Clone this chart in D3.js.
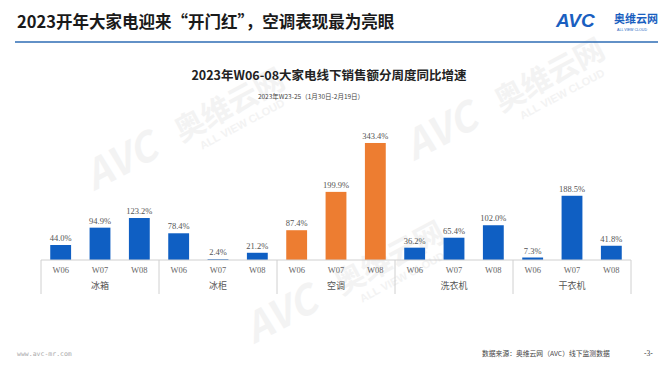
<!DOCTYPE html>
<html><head><meta charset="utf-8">
<script src="https://cdn.jsdelivr.net/npm/d3@7"></script>
<style>
html,body{margin:0;padding:0;background:#fff;}
svg{display:block;}
</style></head>
<body>
<svg id="c" width="667" height="370"></svg>
<script>
const categories = ["冰箱","冰柜","空调","洗衣机","干衣机"];
const weeks = ["W06","W07","W08"];
const fridge = [44.0, 94.9, 123.2];
const freezer = [78.4, 2.4, 21.2];
const aircon = [87.4, 199.9, 343.4];
const washer = [36.2, 65.4, 102.0];
const dryer = [7.3, 188.5, 41.8];
const seriesValues = [fridge, freezer, aircon, washer, dryer];
const highlight = "空调";

const pageTitle = "2023开年大家电迎来“开门红”，空调表现最为亮眼";
const chartTitle = "2023年W06-08大家电线下销售额分周度同比增速";
const chartSub = "2023年W23-25（1月30日-2月19日）";

const data = [];
categories.forEach((c,i)=>weeks.forEach((w,j)=>data.push({cat:c,week:w,key:c+"|"+w,value:seriesValues[i][j]})));

const svg = d3.select("#c");
const left = 41, right = 631, base = 260;

// watermarks
const wm = svg.append("g").attr("fill","#f3f3f3").attr("font-family","Noto Sans CJK SC, sans-serif").attr("font-weight",700);
[[200,135],[520,105],[360,288]].forEach(([x,y])=>{
  const g = wm.append("g").attr("transform",`translate(${x},${y}) rotate(-28)`);
  g.append("text").attr("font-size",40).attr("font-style","italic").attr("x",-120).text("AVC");
  g.append("text").attr("font-size",30).attr("x",-20).attr("y",-2).text("奥维云网");
  g.append("text").attr("font-size",11).attr("x",-5).attr("y",14).attr("font-family","Liberation Sans, sans-serif").text("ALL VIEW CLOUD");
});

// page header
svg.append("text").attr("x",17).attr("y",28).attr("font-family","Noto Sans CJK SC, sans-serif")
  .attr("font-weight",700).attr("font-size",16.5).attr("fill","#1a1a1a").text(pageTitle);
svg.append("line").attr("x1",15).attr("x2",658).attr("y1",42).attr("y2",42).attr("stroke","#2e6db4").attr("stroke-width",1.5);
// logo
const logo = svg.append("g");
logo.append("text").attr("x",556).attr("y",27).attr("font-family","Liberation Sans, sans-serif").attr("font-weight",700)
  .attr("font-style","italic").attr("font-size",19).attr("fill","#1a5fc0").text("AVC");
logo.append("text").attr("x",614).attr("y",23).attr("font-family","Noto Sans CJK SC, sans-serif").attr("font-weight",700)
  .attr("font-size",11).attr("fill","#1a5fc0").text("奥维云网");
logo.append("text").attr("x",617).attr("y",31).attr("font-family","Liberation Sans, sans-serif")
  .attr("font-size",3.6).attr("fill","#1a5fc0").text("ALL VIEW CLOUD");

// chart titles
svg.append("text").attr("x",329).attr("y",80).attr("text-anchor","middle").attr("font-family","Noto Sans CJK SC, sans-serif")
  .attr("font-weight",700).attr("font-size",12.5).attr("fill","#222").text(chartTitle);
svg.append("text").attr("x",311).attr("y",99).attr("text-anchor","middle").attr("font-family","Noto Sans CJK SC, sans-serif")
  .attr("font-size",6.5).attr("fill","#444").text(chartSub);

// scales
const x = d3.scaleBand().domain(data.map(d=>d.key)).range([left,right]).paddingInner(0.47).paddingOuter(0.235);
const xg = d3.scaleBand().domain(categories).range([left,right]);
const y = d3.scaleLinear().domain([0,400]).range([base, base-136.3]);

// bars
svg.append("g").selectAll("rect").data(data).join("rect")
  .attr("x",d=>x(d.key)).attr("width",x.bandwidth())
  .attr("y",d=>y(d.value)).attr("height",d=>y(0)-y(d.value))
  .attr("fill",d=>d.cat===highlight?"#ed7d31":"#0f5fc3");

// value labels
svg.append("g").selectAll("text").data(data).join("text")
  .attr("x",d=>x(d.key)+x.bandwidth()/2).attr("y",d=>y(d.value)-4)
  .attr("text-anchor","middle").attr("font-family","Liberation Serif, serif").attr("font-size",8.5).attr("fill","#555")
  .text(d=>d.value.toFixed(1)+"%");

// axis with week labels
const ax = svg.append("g").attr("transform",`translate(0,${base})`)
  .call(d3.axisBottom(x).tickSize(0).tickPadding(7).tickFormat(k=>k.split("|")[1]));
ax.select(".domain").attr("stroke","#d0d0d0").attr("d",`M${left},0H${right}`);
ax.selectAll("text").attr("font-family","Liberation Serif, serif").attr("font-size",8.5).attr("fill","#666");

// group dividers & category labels
const divs = categories.map(c=>xg(c)).concat([right]);
svg.append("g").selectAll("line").data(divs).join("line")
  .attr("x1",d=>d).attr("x2",d=>d).attr("y1",base).attr("y2",base+34)
  .attr("stroke","#d0d0d0").attr("stroke-width",1);
svg.append("g").selectAll("text").data(categories).join("text")
  .attr("x",d=>xg(d)+xg.bandwidth()/2).attr("y",base+29).attr("text-anchor","middle")
  .attr("font-family","Noto Sans CJK SC, sans-serif").attr("font-size",9).attr("fill","#555").text(d=>d);

// footer
svg.append("text").attr("x",17).attr("y",356).attr("font-family","DejaVu Sans Mono, monospace").attr("font-size",6.5)
  .attr("fill","#aaa").text("www.avc-mr.com");
svg.append("text").attr("x",482).attr("y",356).attr("font-family","Noto Sans CJK SC, sans-serif").attr("font-size",6.8)
  .attr("fill","#444").text("数据来源：奥维云网（AVC）线下监测数据");
svg.append("text").attr("x",644).attr("y",356).attr("font-family","Liberation Serif, serif").attr("font-size",7.5)
  .attr("fill","#444").text("-3-");
</script>
</body></html>
